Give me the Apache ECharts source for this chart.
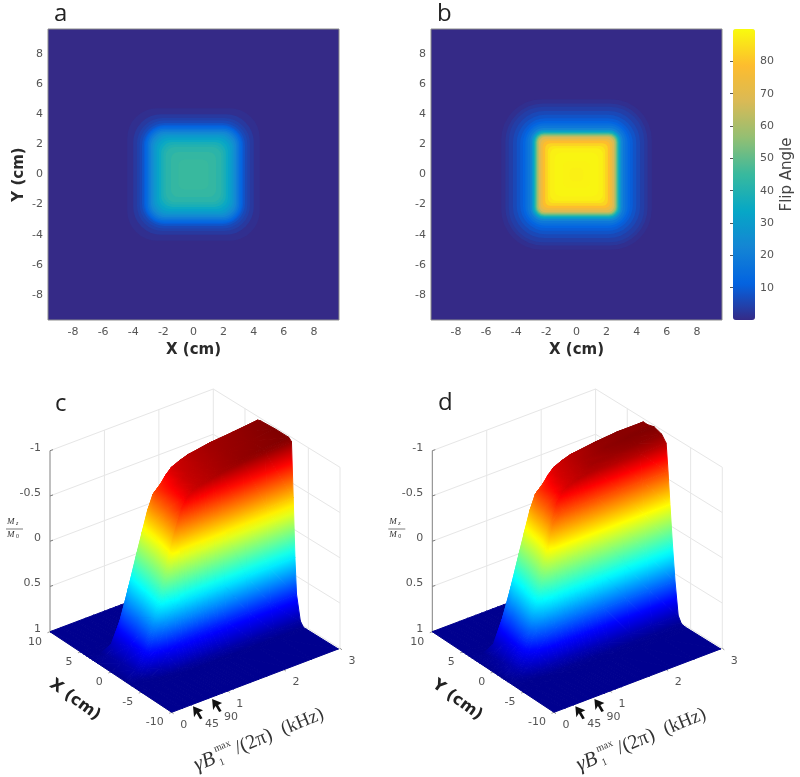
<!DOCTYPE html>
<html>
<head>
<meta charset="utf-8">
<style>
  html, body { margin: 0; padding: 0; background: #fff; }
  #chart { width: 800px; height: 777px; }
</style>
<script src="https://cdn.jsdelivr.net/npm/echarts@6/dist/echarts.min.js"></script>
</head>
<body>
<div id="chart"></div>
<script>
// flip angle maps: nested iso-contours (value, half width in cm, corner radius in cm)
var levelsA = [0, 1, 3, 4.5, 6, 8, 10, 12, 14, 17, 20, 23, 26, 29, 32, 35, 38, 40, 42, 44, 45]
var halfA = [9.66, 4.4, 4.0, 3.75, 3.58, 3.42, 3.3, 3.22, 3.14, 3.04, 2.94, 2.84, 2.72, 2.6, 2.45, 2.3, 2.15, 2.0, 1.85, 1.5, 1.0]
var cornerA = [0, 2.0, 1.85, 1.7, 1.6, 1.5, 1.4, 1.3, 1.2, 1.1, 1.05, 1.0, 0.95, 0.9, 0.85, 0.8, 0.75, 0.7, 0.65, 0.5, 0.4]

var levelsB = [0, 1, 2.5, 4, 6, 8, 10, 12, 15, 18, 22, 27, 32, 38, 44, 50, 56, 62, 68, 74, 79, 83, 86, 88, 89, 88.5, 88]
var halfB = [9.66, 5.0, 4.72, 4.5, 4.22, 3.97, 3.74, 3.56, 3.4, 3.25, 3.08, 2.97, 2.9, 2.82, 2.76, 2.7, 2.64, 2.58, 2.5, 2.38, 2.24, 2.08, 1.9, 1.75, 1.45, 0.9, 0.45]
var cornerB = [0, 2.7, 2.5, 2.3, 2.1, 1.9, 1.7, 1.5, 1.3, 1.1, 0.9, 0.8, 0.7, 0.65, 0.6, 0.55, 0.5, 0.45, 0.42, 0.4, 0.38, 0.35, 0.35, 0.4, 0.4, 0.4, 0.3]

var mapTicks = [-8, -6, -4, -2, 0, 2, 4, 6, 8]
var barTicks = [10, 20, 30, 40, 50, 60, 70, 80]
var parula = ['#352a87', '#0363e1', '#1485d4', '#06a7c6', '#38b99e', '#92bf73', '#d9ba56', '#fdbc2e', '#f9fb0e']
var jet = ['#00008f', '#0000ff', '#007fff', '#00ffff', '#7fff7f', '#ffff00', '#ff7f00', '#ff0000', '#7f0000']

// Mz surfaces, one row per B1 value
var b1Values = [0, 0.2, 0.35, 0.5, 0.65, 0.8, 0.9, 1, 1.1, 1.2, 1.3, 1.4, 1.55, 1.7, 2.1, 2.5, 2.97]
var xValues = [-10, -5, -4.5, -4, -3.4, -3.15, -2.88, -2.6, -2.2, 0, 2.2, 2.7, 3, 3.5, 4, 4.5, 5, 10]
var mzX = [
  [1, 1, 1, 1, 1, 1, 1, 1, 1, 1, 1, 1, 1, 1, 1, 1, 1, 1],
  [1, 1, 1, 1, 1, 0.995, 0.97, 0.94, 0.93, 0.95, 0.97, 0.98, 0.99, 1, 1, 1, 1, 1],
  [1, 1, 1, 1, 0.98, 0.9, 0.8, 0.74, 0.74, 0.8, 0.86, 0.88, 0.9, 1, 1, 1, 1, 1],
  [1, 1, 1, 1, 0.92, 0.7, 0.5, 0.42, 0.42, 0.52, 0.6, 0.64, 0.68, 0.98, 1, 1, 1, 1],
  [1, 1, 1, 0.99, 0.8, 0.45, 0.12, 0.06, 0.08, 0.2, 0.3, 0.34, 0.36, 0.95, 1, 1, 1, 1],
  [1, 1, 1, 0.98, 0.72, 0.33, -0.25, -0.3, -0.26, -0.13, -0.03, 0, 0.02, 0.85, 1, 1, 1, 1],
  [1, 1, 1, 0.97, 0.7, 0.31, -0.33, -0.52, -0.46, -0.35, -0.26, -0.22, -0.2, 0.78, 0.99, 1, 1, 1],
  [1, 1, 1, 0.97, 0.69, 0.3, -0.35, -0.7, -0.66, -0.56, -0.48, -0.44, -0.42, 0.7, 0.98, 1, 1, 1],
  [1, 1, 1, 0.96, 0.69, 0.3, -0.35, -0.8, -0.78, -0.72, -0.66, -0.62, -0.58, 0.62, 0.97, 1, 1, 1],
  [1, 1, 1, 0.96, 0.69, 0.3, -0.35, -0.85, -0.84, -0.8, -0.72, -0.68, -0.6, 0.55, 0.96, 1, 1, 1],
  [1, 1, 1, 0.96, 0.69, 0.3, -0.35, -0.87, -0.87, -0.85, -0.8, -0.76, -0.7, 0.5, 0.95, 1, 1, 1],
  [1, 1, 1, 0.96, 0.69, 0.3, -0.35, -0.88, -0.88, -0.87, -0.85, -0.82, -0.76, 0.45, 0.94, 1, 1, 1],
  [1, 1, 1, 0.95, 0.69, 0.3, -0.35, -0.9, -0.9, -0.89, -0.87, -0.86, -0.82, 0.4, 0.93, 1, 1, 1],
  [1, 1, 1, 0.95, 0.69, 0.3, -0.35, -0.92, -0.92, -0.91, -0.9, -0.89, -0.85, 0.35, 0.92, 1, 1, 1],
  [1, 1, 1, 0.95, 0.68, 0.29, -0.36, -0.95, -0.96, -0.95, -0.94, -0.93, -0.82, 0.3, 0.9, 1, 1, 1],
  [1, 1, 1, 0.95, 0.68, 0.29, -0.36, -0.96, -0.98, -0.97, -0.96, -0.95, -0.8, 0.25, 0.9, 1, 1, 1],
  [1, 1, 1, 0.95, 0.68, 0.29, -0.36, -0.97, -1, -1, -0.99, -0.98, -0.8, 0.2, 0.9, 1, 1, 1]
]
var yValues = [-10, -5, -4.4, -3.8, -3.3, -2.8, -2.4, -2, -1.7, -1.4, -0.7, 0.5, 1.5, 2.2, 2.7, 3, 3.5, 4, 4.5, 5, 10]
var mzY = [
  [1, 1, 1, 1, 1, 1, 1, 1, 1, 1, 1, 1, 1, 1, 1, 1, 1, 1, 1, 1, 1],
  [1, 1, 1, 1, 0.995, 0.97, 0.95, 0.94, 0.93, 0.93, 0.94, 0.96, 0.97, 0.98, 0.99, 0.99, 1, 1, 1, 1, 1],
  [1, 1, 1, 1, 0.98, 0.88, 0.8, 0.75, 0.74, 0.74, 0.76, 0.8, 0.84, 0.86, 0.88, 0.9, 1, 1, 1, 1, 1],
  [1, 1, 1, 1, 0.95, 0.75, 0.55, 0.44, 0.42, 0.42, 0.45, 0.52, 0.58, 0.6, 0.64, 0.66, 0.98, 1, 1, 1, 1],
  [1, 1, 1, 0.99, 0.93, 0.64, 0.34, 0.1, 0.08, 0.08, 0.12, 0.2, 0.26, 0.3, 0.34, 0.36, 0.95, 1, 1, 1, 1],
  [1, 1, 1, 0.99, 0.92, 0.58, 0.2, -0.2, -0.28, -0.26, -0.2, -0.12, -0.06, -0.03, 0, 0.02, 0.85, 1, 1, 1, 1],
  [1, 1, 1, 0.99, 0.92, 0.56, 0.18, -0.25, -0.52, -0.5, -0.42, -0.35, -0.3, -0.26, -0.22, -0.2, 0.78, 0.99, 1, 1, 1],
  [1, 1, 1, 0.99, 0.92, 0.56, 0.18, -0.25, -0.6, -0.7, -0.64, -0.56, -0.52, -0.48, -0.44, -0.42, 0.7, 0.98, 1, 1, 1],
  [1, 1, 1, 0.99, 0.92, 0.56, 0.18, -0.25, -0.6, -0.8, -0.77, -0.72, -0.69, -0.66, -0.62, -0.58, 0.62, 0.97, 1, 1, 1],
  [1, 1, 1, 0.99, 0.92, 0.56, 0.18, -0.25, -0.6, -0.84, -0.82, -0.8, -0.76, -0.72, -0.68, -0.6, 0.55, 0.96, 1, 1, 1],
  [1, 1, 1, 0.99, 0.92, 0.56, 0.18, -0.25, -0.6, -0.86, -0.85, -0.84, -0.82, -0.8, -0.76, -0.7, 0.5, 0.95, 1, 1, 1],
  [1, 1, 1, 0.99, 0.92, 0.56, 0.18, -0.25, -0.6, -0.88, -0.87, -0.86, -0.85, -0.84, -0.82, -0.76, 0.45, 0.94, 1, 1, 1],
  [1, 1, 1, 0.99, 0.92, 0.56, 0.18, -0.25, -0.6, -0.9, -0.9, -0.89, -0.88, -0.87, -0.86, -0.8, 0.4, 0.93, 1, 1, 1],
  [1, 1, 1, 0.99, 0.92, 0.56, 0.18, -0.25, -0.6, -0.9, -0.93, -0.92, -0.91, -0.9, -0.89, -0.82, 0.35, 0.92, 1, 1, 1],
  [1, 1, 1, 0.99, 0.92, 0.56, 0.18, -0.25, -0.6, -0.9, -0.95, -0.97, -0.96, -0.96, -0.9, -0.78, 0.3, 0.9, 1, 1, 1],
  [1, 1, 1, 0.99, 0.92, 0.56, 0.18, -0.25, -0.6, -0.9, -0.97, -0.99, -0.98, -0.98, -0.92, -0.74, 0.25, 0.9, 1, 1, 1],
  [1, 1, 1, 0.99, 0.92, 0.56, 0.18, -0.25, -0.6, -0.9, -0.97, -1, -0.98, -0.98, -0.9, -0.7, 0.2, 0.9, 1, 1, 1]
]

var mzTicks = [-1, -0.5, 0, 0.5, 1]
var posTicks = [10, 5, 0, -5, -10]
var b1Ticks = [0, 1, 2, 3]
var arrowB1 = [0.38, 0.72]
var arrowLabels = ['45', '90']

var tickFont = 'DejaVu Sans'
var tickColor = '#555'
var wallColor = '#e6e6e6'

// view of the 3d box, in the units of the hidden 400 wide panel axes
function project(pos, b1, mz) {
  var u = (pos + 10) / 20
  var v = b1 / 3
  var x = (1 - u) * (1 - v) * 171.7 + u * (1 - v) * 50 + (1 - u) * v * 340 + u * v * 213.3
  var y = (1 - u) * (1 - v) * 332.3 + u * (1 - v) * 251.7 + (1 - u) * v * 268.3 + u * v * 190
  return [x, y - (1 - mz) / 2 * 181]
}

function jetColor(t) {
  return echarts.color.lerp(Math.max(0, Math.min(1, t)), jet)
}

// smooth shading for one triangle, like shading interp
function shadedFill(pts, mz) {
  var f = mz.map(function (m) { return (1 - m) / 2 })
  var fMin = Math.min(f[0], f[1], f[2])
  var fMax = Math.max(f[0], f[1], f[2])
  var dx1 = pts[1][0] - pts[0][0]
  var dy1 = pts[1][1] - pts[0][1]
  var dx2 = pts[2][0] - pts[0][0]
  var dy2 = pts[2][1] - pts[0][1]
  var det = dx1 * dy2 - dx2 * dy1
  if (fMax - fMin < 0.002 || Math.abs(det) < 0.01) {
    return jetColor((fMin + fMax) / 2)
  }
  var df1 = f[1] - f[0]
  var df2 = f[2] - f[0]
  var gx = (df1 * dy2 - df2 * dy1) / det
  var gy = (dx1 * df2 - dx2 * df1) / det
  var g2 = gx * gx + gy * gy
  var stops = []
  for (var s = 0; s <= 8; s++) {
    stops.push({ offset: s / 8, color: jetColor(fMin + (fMax - fMin) * s / 8) })
  }
  return new echarts.graphic.LinearGradient(
    pts[0][0] + gx * (fMin - f[0]) / g2, pts[0][1] + gy * (fMin - f[0]) / g2,
    pts[0][0] + gx * (fMax - f[0]) / g2, pts[0][1] + gy * (fMax - f[0]) / g2,
    stops, true
  )
}

// back to front order, the camera sits at the low position, low B1 corner
function surfaceOrder(posValues) {
  var order = []
  for (var i = posValues.length - 2; i >= 0; i--) {
    for (var j = b1Values.length - 2; j >= 0; j--) {
      order.push([i, j, 0])
      order.push([i, j, 1])
    }
  }
  return order
}

function surfaceItem(posValues, table) {
  return function (params, api) {
    var i = api.value(0)
    var j = api.value(1)
    var cells = api.value(2) === 0
      ? [[i + 1, j + 1], [i + 1, j], [i, j + 1]]
      : [[i, j], [i + 1, j], [i, j + 1]]
    var mz = cells.map(function (c) { return table[c[1]][c[0]] })
    var pts = cells.map(function (c, k) {
      return api.coord(project(posValues[c[0]], b1Values[c[1]], mz[k]))
    })
    var fill = shadedFill(pts, mz)
    return {
      type: 'polygon',
      silent: true,
      shape: { points: pts },
      style: { fill: fill, stroke: fill, lineWidth: 1 }
    }
  }
}

function seg(api, a, b, color, width) {
  var p = api.coord(a)
  var q = api.coord(b)
  return {
    type: 'line',
    silent: true,
    shape: { x1: p[0], y1: p[1], x2: q[0], y2: q[1] },
    style: { stroke: color, lineWidth: width || 1 }
  }
}

function label(api, at, dx, dy, text, align) {
  var p = api.coord(at)
  return {
    type: 'text',
    silent: true,
    x: p[0] + dx,
    y: p[1] + dy,
    style: {
      text: text, fill: tickColor, font: '11px "' + tickFont + '"',
      align: align || 'center', verticalAlign: 'middle'
    }
  }
}

// walls, axes, tick labels and axis names of a 3d panel
function frameItem(posName) {
  return function (params, api) {
    var kids = []
    var top = -1
    var i
    mzTicks.forEach(function (m) {
      if (m !== 1) {
        kids.push(seg(api, project(10, 0, m), project(10, 3, m), wallColor))
        kids.push(seg(api, project(10, 3, m), project(-10, 3, m), wallColor))
      }
    })
    b1Ticks.forEach(function (b) {
      kids.push(seg(api, project(10, b, 1), project(10, b, top), b === 0 ? '#808080' : wallColor))
    })
    posTicks.forEach(function (x) {
      if (x !== 10) kids.push(seg(api, project(x, 3, 1), project(x, 3, top), wallColor))
    })
    kids.push(seg(api, project(10, 0, 1), project(-10, 0, 1), '#bbb'))
    kids.push(seg(api, project(-10, 0, 1), project(-10, 3, 1), '#ccc'))
    kids.push(seg(api, project(-10, 3, 1), project(10, 3, 1), wallColor))
    kids.push(seg(api, project(10, 3, 1), project(10, 0, 1), wallColor))

    mzTicks.forEach(function (m) {
      var p = project(10, 0, m)
      kids.push(seg(api, p, [p[0] + 3, p[1] - 1], '#808080'))
      kids.push(label(api, p, -9, -3, String(m), 'right'))
    })
    posTicks.forEach(function (x) {
      var p = project(x, 0, 1)
      kids.push(seg(api, p, [p[0] - 2.5, p[1] + 1], '#999'))
      kids.push(label(api, p, -8, 10, String(x), 'right'))
    })
    b1Ticks.forEach(function (b) {
      var p = project(-10, b, 1)
      kids.push(seg(api, p, [p[0] + 2, p[1] + 1.5], '#999'))
      kids.push(label(api, p, 12, 13, String(b)))
    })
    for (i = 0; i < arrowB1.length; i++) {
      kids.push(label(api, project(-10, arrowB1[i], 1), 19, 20, arrowLabels[i]))
    }

    // bold position axis name, follows the floor edge
    var nameAt = api.coord([75, 320])
    kids.push({
      type: 'text', silent: true, x: nameAt[0], y: nameAt[1], rotation: -0.63,
      style: {
        text: posName, fill: '#222', font: 'bold 16px "DejaVu Sans"',
        align: 'center', verticalAlign: 'middle'
      }
    })

    // gamma B1 max over 2 pi, kHz
    var serif = '"Liberation Serif"'
    var bAt = api.coord([195, 386])
    var mathPart = function (x, y, text, font) {
      return {
        type: 'text', silent: true, x: x, y: y,
        style: { text: text, fill: '#333', font: font, align: 'left', verticalAlign: 'middle' }
      }
    }
    kids.push({
      type: 'group', silent: true, x: bAt[0], y: bAt[1], rotation: 0.39,
      children: [
        mathPart(0, 0, 'γB', 'italic 21px ' + serif),
        mathPart(24, -8, 'max', '10px ' + serif),
        mathPart(24, 7, '1', '10px ' + serif),
        mathPart(44, 0, '/(2π)', '20px ' + serif),
        mathPart(94, 0, '(kHz)', '19px ' + serif)
      ]
    })

    // Mz over M0
    var fracAt = api.coord([15, 149])
    kids.push({
      type: 'group', silent: true, x: fracAt[0], y: fracAt[1],
      children: [
        mathPart(-8, -7, 'M', 'italic 9px ' + serif),
        mathPart(1, -5.5, 'z', 'italic 6px ' + serif),
        mathPart(-8, 6, 'M', 'italic 9px ' + serif),
        mathPart(1, 7.5, '0', '6px ' + serif),
        { type: 'line', silent: true, shape: { x1: -9, y1: 0, x2: 8, y2: 0 }, style: { stroke: '#444', lineWidth: 0.7 } }
      ]
    })
    return { type: 'group', children: kids }
  }
}

function arrowItem(params, api) {
  var p = api.coord(project(-10, api.value(0), 1))
  var shape = [[0, 2], [10, 6], [6, 8], [9.5, 14], [7, 15], [3.5, 9], [1, 13]]
  return {
    type: 'polygon',
    silent: true,
    shape: { points: shape.map(function (s) { return [p[0] + s[0], p[1] + s[1]] }) },
    style: { fill: '#111' }
  }
}

// one flip angle contour, colored by the visualMap
function contourItem(params, api) {
  var hw = api.value(1)
  var a = api.coord([-hw, hw])
  var b = api.coord([hw, -hw])
  var c = api.coord([-hw + api.value(2), hw])
  var isOuter = params.dataIndex === 0
  return {
    type: 'rect',
    silent: true,
    shape: { x: a[0], y: a[1], width: b[0] - a[0], height: b[1] - a[1], r: c[0] - a[0] },
    style: { fill: api.visual('color'), stroke: isOuter ? '#8c8c8c' : null, lineWidth: 1 }
  }
}

function zipLevels(levels, half, corner) {
  return levels.map(function (v, i) { return [v, half[i], corner[i]] })
}

function mapAxes(gridIndex, xName, yName) {
  var tickLabel = { color: tickColor, fontFamily: tickFont, fontSize: 11, customValues: mapTicks, margin: 5 }
  var nameStyle = { color: '#2a2a2a', fontFamily: 'DejaVu Sans', fontWeight: 'bold', fontSize: 15 }
  return {
    x: {
      type: 'value', gridIndex: gridIndex, min: -9.66, max: 9.66,
      name: xName, nameLocation: 'middle', nameGap: 23, nameTextStyle: nameStyle,
      axisLine: { show: false }, axisTick: { show: false }, splitLine: { show: false },
      axisLabel: Object.assign({}, tickLabel, { margin: 7 })
    },
    y: {
      type: 'value', gridIndex: gridIndex, min: -9.66, max: 9.66,
      name: yName, nameLocation: 'middle', nameGap: 21, nameTextStyle: nameStyle,
      axisLine: { show: false }, axisTick: { show: false }, splitLine: { show: false }, axisLabel: tickLabel
    }
  }
}

function viewAxes(gridIndex) {
  return {
    x: { type: 'value', gridIndex: gridIndex, min: 0, max: 400, show: false },
    y: { type: 'value', gridIndex: gridIndex, min: 0, max: 397, inverse: true, show: false }
  }
}

var axesA = mapAxes(0, 'X (cm)', 'Y (cm)')
var axesB = mapAxes(1, 'X (cm)', '')
var axesC = viewAxes(3)
var axesD = viewAxes(4)

var letterStyle = { fontFamily: 'Open Sans', fontSize: 24, fontWeight: 'normal', color: '#222' }

var option = {
  animation: false,
  backgroundColor: '#fff',
  title: [
    { text: 'a', left: 54, top: 2, textStyle: letterStyle, padding: 0 },
    { text: 'b', left: 437, top: 2, textStyle: letterStyle, padding: 0 },
    { text: 'c', left: 55, top: 392, textStyle: letterStyle, padding: 0 },
    { text: 'd', left: 438, top: 391, textStyle: letterStyle, padding: 0 }
  ],
  grid: [
    { left: 48, top: 29, width: 291, height: 291 },
    { left: 431, top: 29, width: 291, height: 291 },
    { left: 733, top: 29, width: 22, height: 291 },
    { left: 0, top: 380, width: 400, height: 397 },
    { left: 382.3, top: 380, width: 400, height: 397 }
  ],
  xAxis: [
    axesA.x, axesB.x,
    { type: 'value', gridIndex: 2, min: 0, max: 1, show: false },
    axesC.x, axesD.x
  ],
  yAxis: [
    axesA.y, axesB.y,
    {
      type: 'value', gridIndex: 2, min: 0, max: 90, position: 'right',
      name: 'Flip Angle', nameLocation: 'middle', nameRotate: 90, nameGap: 25,
      nameTextStyle: { color: '#444', fontFamily: 'DejaVu Sans', fontSize: 15 },
      axisLine: { show: false },
      axisTick: { show: true, inside: true, length: 3, customValues: barTicks, lineStyle: { color: '#555' } },
      splitLine: { show: false },
      axisLabel: { color: tickColor, fontFamily: tickFont, fontSize: 11, customValues: barTicks, margin: 5 }
    },
    axesC.y, axesD.y
  ],
  visualMap: {
    type: 'continuous',
    seriesIndex: [0, 1],
    dimension: 0,
    min: 0,
    max: 90,
    calculable: false,
    hoverLink: false,
    left: 733,
    top: 29,
    padding: 0,
    itemWidth: 22,
    itemHeight: 291,
    borderColor: '#999',
    borderWidth: 0,
    inRange: { color: parula }
  },
  series: [
    { type: 'custom', xAxisIndex: 0, yAxisIndex: 0, renderItem: contourItem, data: zipLevels(levelsA, halfA, cornerA) },
    { type: 'custom', xAxisIndex: 1, yAxisIndex: 1, renderItem: contourItem, data: zipLevels(levelsB, halfB, cornerB) },
    { type: 'custom', xAxisIndex: 3, yAxisIndex: 3, renderItem: frameItem('X (cm)'), data: [[0]] },
    { type: 'custom', xAxisIndex: 3, yAxisIndex: 3, renderItem: surfaceItem(xValues, mzX), data: surfaceOrder(xValues) },
    { type: 'custom', xAxisIndex: 3, yAxisIndex: 3, renderItem: arrowItem, data: arrowB1.map(function (b) { return [b] }) },
    { type: 'custom', xAxisIndex: 4, yAxisIndex: 4, renderItem: frameItem('Y (cm)'), data: [[0]] },
    { type: 'custom', xAxisIndex: 4, yAxisIndex: 4, renderItem: surfaceItem(yValues, mzY), data: surfaceOrder(yValues) },
    { type: 'custom', xAxisIndex: 4, yAxisIndex: 4, renderItem: arrowItem, data: arrowB1.map(function (b) { return [b] }) }
  ]
}

var chart = echarts.init(document.getElementById('chart'))
chart.setOption(option)
</script>
</body>
</html>
